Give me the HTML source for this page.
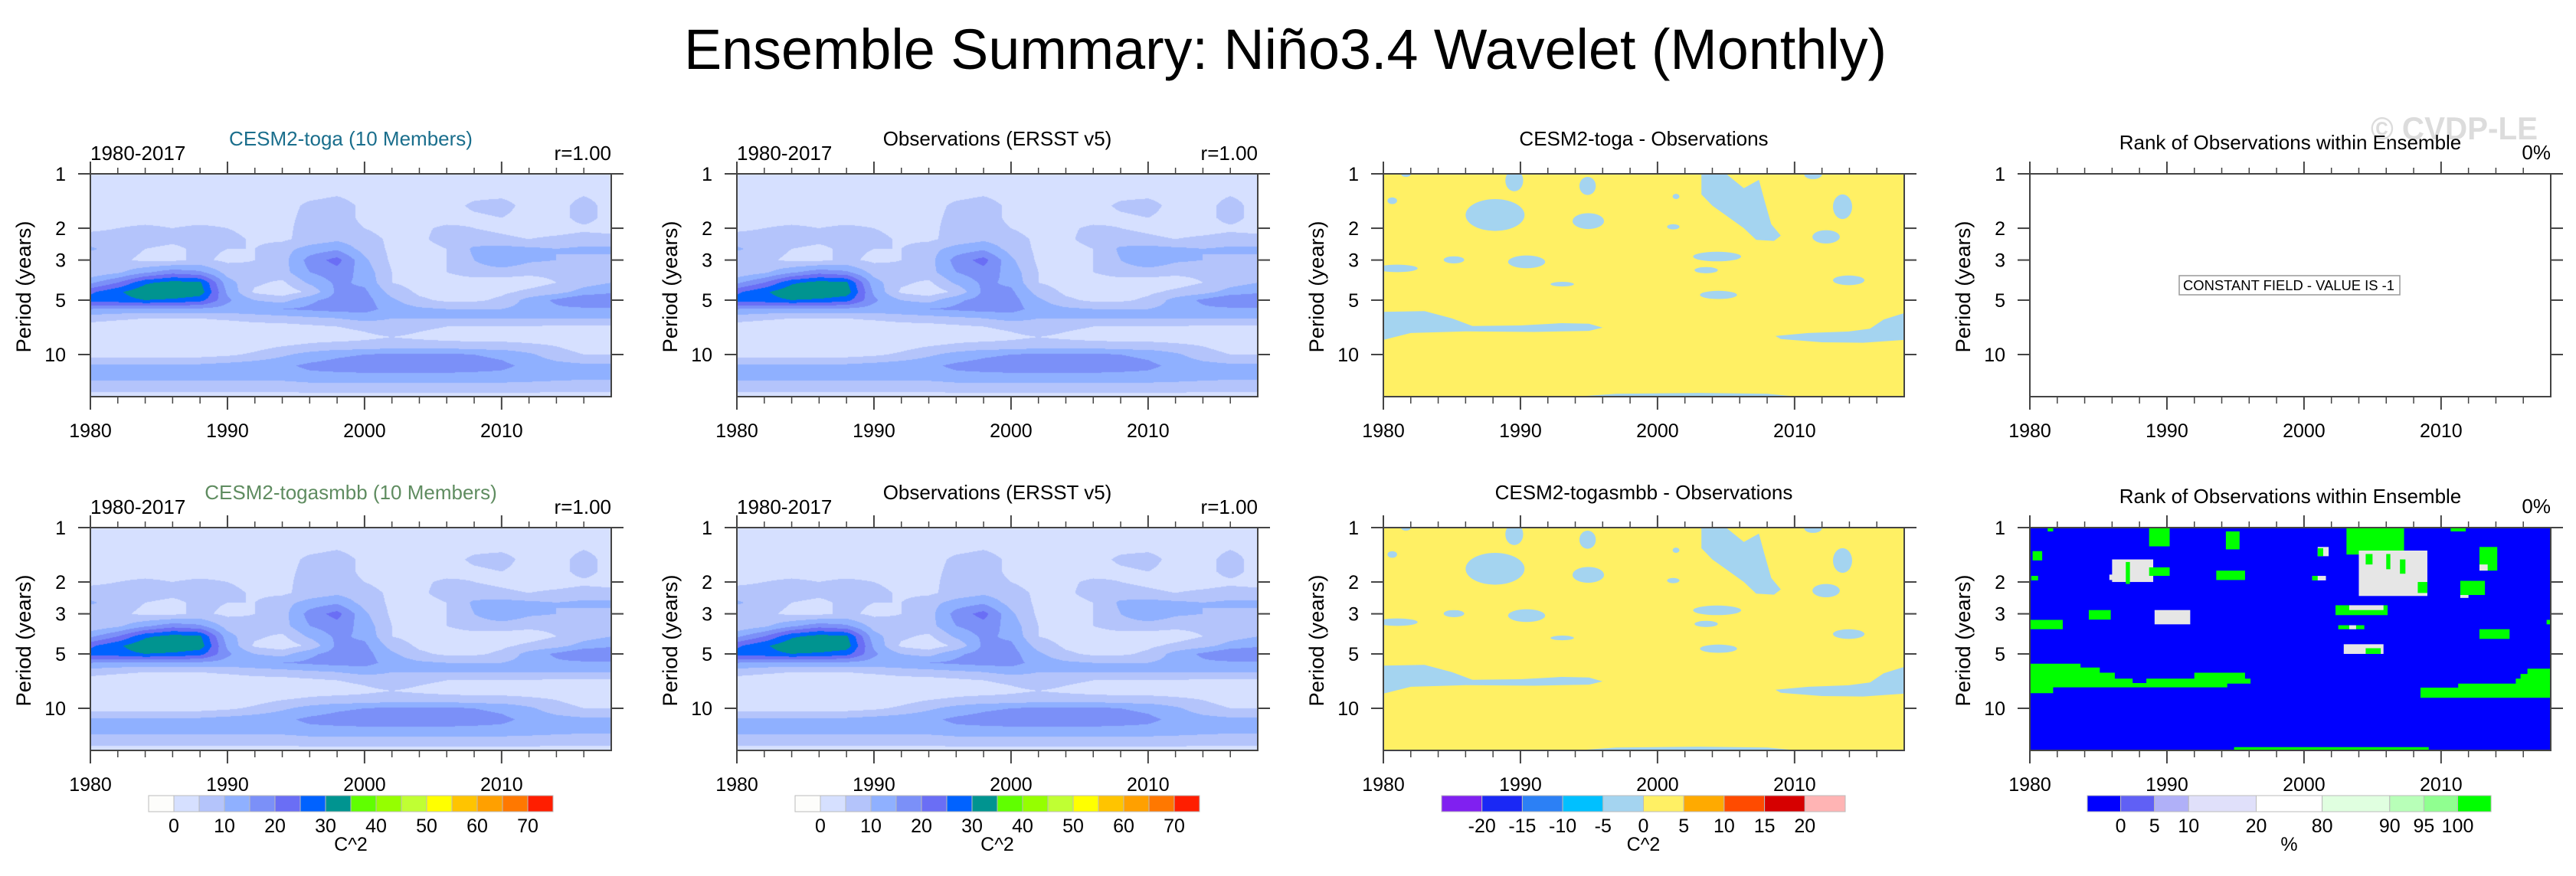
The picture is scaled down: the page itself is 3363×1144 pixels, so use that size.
<!DOCTYPE html>
<html><head><meta charset="utf-8">
<style>
html,body{margin:0;padding:0;background:#fff;}
#wrap{position:relative;width:3363px;height:1144px;overflow:hidden;background:#fff;font-family:"Liberation Sans",sans-serif;}
canvas{position:absolute;}
svg{position:absolute;left:0;top:0;}
</style></head>
<body>
<div id="wrap">
<svg id="svg" width="3363" height="1144" viewBox="0 0 3363 1144">
  <text x="893" y="90" font-size="74" textLength="1570" lengthAdjust="spacingAndGlyphs" fill="#000">Ensemble Summary: Niño3.4 Wavelet (Monthly)</text>
  <text x="3095" y="182" font-size="42" font-weight="bold" fill="#dcdcdc" textLength="218" lengthAdjust="spacingAndGlyphs">© CVDP-LE</text>
</svg>
</div>
<script>
const NS="http://www.w3.org/2000/svg";
const svg=document.getElementById('svg');
const wrap=document.getElementById('wrap');
const PL=[118,962,1806,2650], PT=[227,689], PW=680, PH=291, PMAX=17.1;
const yearTicks=[1980,1990,2000,2010];
const minorYears=[1982,1984,1986,1988,1992,1994,1996,1998,2002,2004,2006,2008,2012,2014,2016];
const periodTicks=[1,2,3,5,10];

const gridYears=[1980,1982,1984,1986,1988,1990,1992,1994,1996,1998,2000,2002,2004,2006,2008,2010,2012,2014,2016,2018];
const gridPeriods=[1,1.25,1.5,1.75,2,2.3,2.6,3,3.5,4,4.5,5,5.6,6.3,7,8,9,10,11.5,13,15,17.2];
const power=[
[3,3,3,3,3,3,3,3,3,3,3,3,3,3,3,3,3,3,3,3],
[3,3,3,3,3,3,3,3,3,4,3,3,3,3,3,3,3,3,4,3],
[3,3,3,3,3,3,3,3,6,7,4,3,3,3,6,7,3,3,7,3],
[3,3,3,3,3,3,3,3,7,7,4,3,3,3,4,5,3,3,7,3],
[4,5,6,5,6,5,3,3,8,7,5,3,4,6,5,4,3,3,4,3],
[7,7,7,6,7,7,4,4,7,9,7,4,4,7,7,6,5,6,7,7],
[11,7,5,4,6,5,5,8,12,14,8,4,3,5,11,12,11,10,11,11],
[6,6,4,4,6,4,5,8,17,22,11,4,3,5,10,15,11,10,9,9],
[6,9,14,18,16,8,6,8,15,18,13,5,4,5,7,7,6,6,6,7],
[14,20,29,32,31,12,6,4,11,16,14,5,3,3,3,3,3,5,8,10],
[24,29,34,35,33,14,4,2,6,16,16,8,4,3,3,4,6,8,12,14],
[27,28,30,29,27,16,10,8,14,17,17,11,6,4,4,6,12,16,20,20],
[15,14,14,14,14,13,14,15,16,17,17,13,11,10,10,10,12,14,14,14],
[7,6,5,5,5,6,7,8,9,10,12,10,10,10,10,10,10,10,10,10],
[3,2,2,2,2,2,3,3,4,5,6,8,6,5,5,5,5,4,4,4],
[2,2,2,2,2,2,2,2,3,3,4,5,4,3,3,3,3,3,2,2],
[2,2,2,2,2,2,3,5,6,7,7,8,8,8,7,7,6,5,3,3],
[3,3,3,3,3,4,6,9,12,14,15,16,16,16,15,14,11,7,5,5],
[11,11,11,11,11,12,13,14,16,17,18,18,18,18,17,16,14,12,11,11],
[13,13,13,13,13,13,13,13,14,14,14,14,14,14,14,14,13,13,12,12],
[7,7,7,7,7,7,7,7,8,8,8,8,8,8,8,8,8,7,7,7],
[3,3,3,3,3,3,3,3,3,3,3,3,3,3,3,3,3,3,3,3]];
const obsPower=power;

const powerLabels=["0","10","20","30","40","50","60","70"];
const powerColors=["#fdfdfb","#d6e0ff","#b4c4fb","#8fb0ff","#7b90f8","#6a6ef5","#0062ff","#009490","#60ff00","#95ff00","#c0ff33","#ffff00","#ffc400","#ffa000","#ff7800","#ff1e00"];
const diffLabels=["-20","-15","-10","-5","0","5","10","15","20"];
const diffColors=["#8020f0","#1a28f5","#2c80f5","#00c0ff","#a4d4f0","#fff064","#ffaa00","#ff4b00","#d60000","#ffb4b4"];
const rankLabels=["0","5","10","20","80","90","95","100"];
const rankColors=["#0000ff","#6060f5","#b0b0f8","#e0e0fa","#ffffff","#e0ffe0","#b8ffb8","#90ff90","#00ff00"];
const rankBoxWidths=[83,84,85,168,164,168,85,84,83];

const diffBlobs=[[1988.9,1990.2,0.95,1.25],[1994.3,1995.5,1.04,1.31],[1980.3,1981.0,1.35,1.47],[1986.0,1990.3,1.38,2.07],
[1993.8,1996.1,1.65,2.02],[2001.1,2001.6,1.29,1.38],[2000.7,2001.6,1.9,2.03],[2012.8,2014.2,1.3,1.78],[2011.3,2013.3,2.05,2.43],
[2010.7,2012.0,0.95,1.07],[1984.4,1985.9,2.86,3.13],[1989.1,1991.8,2.83,3.33],[1979.5,1982.5,3.18,3.5],[1992.2,1993.9,3.96,4.2],
[2002.6,2006.1,2.7,3.05],[2002.7,2004.4,3.28,3.55],[2003.1,2005.8,4.44,4.93],[2012.8,2015.1,3.65,4.13],[1981.3,1982.0,0.97,1.04]];
const diffPolyA=[[2003.2,1],[2005,1],[2006.3,1.2],[2007.4,1.08],[2007.8,1.4],[2008.3,1.9],[2009,2.2],[2008.5,2.35],[2007.2,2.32],[2006.3,2.0],[2005,1.7],[2004,1.5],[2003.2,1.3]];
const diffPolyB=[[1980,5.8],[1983,5.75],[1985,6.3],[1986.5,6.95],[1990,6.9],[1993,6.7],[1995,6.75],[1996,7.1],[1995,7.4],[1991,7.5],[1986,7.45],[1982,7.6],[1980,8.3]];
const diffPolyC=[[2008.6,7.9],[2011,7.6],[2014,7.45],[2015.5,7.2],[2016.5,6.4],[2018,5.9],[2018,8.3],[2015,8.6],[2012,8.55],[2009,8.2]];
const diffPolyD=[[1993,17.3],[1997,16.5],[2003,16.3],[2008,16.5],[2011,17.3]];

const rankRects=[[1981.3,1981.7,1,1.05,'g'],[1988.7,1990.2,1,1.27,'g'],[1994.3,1995.3,1.05,1.32,'g'],[1980.2,1980.9,1.35,1.52,'g'],
[1980.1,1980.6,1.85,1.96,'g'],[1986,1989,1.5,2.0,'w'],[1985.8,1986.6,1.82,1.95,'w'],[1988.7,1990.2,1.66,1.85,'g'],[1987,1987.3,1.55,2.05,'g'],
[1993.6,1995.7,1.73,1.95,'g'],[2000.6,2001.6,1.85,1.96,'w'],[2000.6,2001.0,1.85,1.96,'g'],[2001,2001.8,1.28,1.44,'w'],[2001,2001.4,1.3,1.44,'g'],
[2003.1,2007.3,1,1.41,'g'],[2004,2009,1.34,2.39,'w'],[2004.5,2005,1.4,1.6,'g'],[2006,2006.3,1.4,1.7,'g'],[2007,2007.4,1.5,1.8,'g'],[2008.3,2009,2.0,2.3,'g'],
[2010.7,2011.8,1,1.05,'g'],[2012.8,2014.1,1.28,1.73,'g'],[2012.8,2013.4,1.6,1.73,'w'],[2011.4,2013.2,1.97,2.36,'g'],[2011.4,2012,2.36,2.45,'w'],
[1984.3,1985.9,2.86,3.23,'g'],[1989.1,1991.7,2.86,3.43,'w'],[1980,1982.4,3.24,3.65,'g'],[2002.3,2006.1,2.69,3.05,'g'],[2003.3,2005.8,2.69,2.86,'w'],
[2002.5,2004.4,3.47,3.65,'g'],[2003.3,2003.8,3.47,3.65,'w'],[2002.9,2005.8,4.42,5.0,'w'],[2004.5,2005.6,4.65,5.0,'g'],[2012.8,2015,3.65,4.13,'g'],[2017.7,2018,3.24,3.43,'g'],
[1994.9,2009.1,16.4,17.2,'g']];
const rankPolyA=[[1980,5.66],[1983.7,5.66],[1983.7,5.95],[1985.1,5.95],[1985.1,6.35],[1986.2,6.35],[1986.2,6.85],[1987.5,6.85],[1987.5,7.25],[1988.5,7.25],[1988.5,6.85],[1992,6.85],[1992,6.35],[1995.7,6.35],[1995.7,6.85],[1996.1,6.85],[1996.1,7.3],[1994.4,7.3],[1994.4,7.65],[1981.7,7.65],[1981.7,8.25],[1980,8.25]];
const rankPolyB=[[2008.5,7.68],[2011.25,7.68],[2011.25,7.3],[2015.45,7.3],[2015.45,6.85],[2015.8,6.85],[2015.8,6.45],[2016.3,6.45],[2016.3,6.03],[2018,6.03],[2018,8.74],[2008.5,8.74]];

function el(tag,attrs,parent){const e=document.createElementNS(NS,tag);for(const k in attrs)e.setAttribute(k,attrs[k]);(parent||svg).appendChild(e);return e;}
function xs(c,yr){return PL[c]+(yr-1980)/38*PW;}
function ys(r,p){return PT[r]+Math.log10(p)/Math.log10(PMAX)*PH;}
function txt(x,y,s,size,anchor,fill){const t=el('text',{x:x,y:y,'font-size':size,'text-anchor':anchor||'start',fill:fill||'#000'});t.textContent=s;return t;}

function drawPowerCanvas(c,r,grid){
  const cv=document.createElement('canvas');cv.width=PW;cv.height=PH;
  cv.style.left=PL[c]+'px';cv.style.top=PT[r]+'px';
  
  
  wrap.insertBefore(cv,svg);
  const ctx=cv.getContext('2d');const img=ctx.createImageData(PW,PH);
  const lgp=gridPeriods.map(p=>Math.log10(p));
  const rgb=powerColors.map(h=>[parseInt(h.substr(1,2),16),parseInt(h.substr(3,2),16),parseInt(h.substr(5,2),16)]);
  for(let py=0;py<PH;py++){
    const lp=(py+0.5)/PH*Math.log10(PMAX);
    let j=0;while(j<lgp.length-2&&lgp[j+1]<lp)j++;
    const fy=Math.min(1,Math.max(0,(lp-lgp[j])/(lgp[j+1]-lgp[j])));
    for(let px=0;px<PW;px++){
      const yr=1980+(px+0.5)/PW*38;
      let i=0;while(i<gridYears.length-2&&gridYears[i+1]<yr)i++;
      const fx=Math.min(1,Math.max(0,(yr-gridYears[i])/(gridYears[i+1]-gridYears[i])));
      const v=(grid[j][i]*(1-fx)+grid[j][i+1]*fx)*(1-fy)+(grid[j+1][i]*(1-fx)+grid[j+1][i+1]*fx)*fy;
      const k=v<0?0:Math.min(15,Math.floor(v/5)+1);
      const o=(py*PW+px)*4;img.data[o]=rgb[k][0];img.data[o+1]=rgb[k][1];img.data[o+2]=rgb[k][2];img.data[o+3]=255;
    }
  }
  ctx.putImageData(img,0,0);
}

function clip(c,r){const id='clip'+c+r;const cp=el('clipPath',{id:id});el('rect',{x:PL[c],y:PT[r],width:PW,height:PH},cp);return 'url(#'+id+')';}
function poly(c,r,pts,fill,g){const d=pts.map(p=>xs(c,p[0]).toFixed(1)+','+ys(r,p[1]).toFixed(1)).join(' ');return el('polygon',{points:d,fill:fill},g);}

function drawDiff(c,r){
  const g=el('g',{'clip-path':clip(c,r)});
  
  
  el('rect',{x:PL[c],y:PT[r],width:PW,height:PH,fill:diffColors[5]},g);
  const neg=diffColors[4];
  diffBlobs.forEach(b=>{
    const e=el('ellipse',{cx:(xs(c,b[0])+xs(c,b[1]))/2,cy:(ys(r,b[2])+ys(r,b[3]))/2,rx:(xs(c,b[1])-xs(c,b[0]))/2,ry:(ys(r,b[3])-ys(r,b[2]))/2,fill:neg},g);
    
    
  });
  [diffPolyA,diffPolyB,diffPolyC,diffPolyD].forEach(pp=>{
    const p=poly(c,r,pp,neg,g);
    
    
  });
}

function drawRank(c,r){
  const g=el('g',{'clip-path':clip(c,r)});
  
  
  el('rect',{x:PL[c],y:PT[r],width:PW,height:PH,fill:rankColors[0]},g);
  [rankPolyA,rankPolyB].forEach(pp=>{
    const p=poly(c,r,pp,rankColors[8],g);
    
    
  });
  rankRects.forEach(b=>{
    const e=el('rect',{x:xs(c,b[0]),y:ys(r,b[2]),width:xs(c,b[1])-xs(c,b[0]),height:ys(r,b[3])-ys(r,b[2]),fill:b[4]=='g'?rankColors[8]:'#e6e6e6'},g);
    
    
  });
}

function axes(c,r){
  const x0=PL[c],y0=PT[r],x1=x0+PW,y1=y0+PH,st='#444';
  const f=el('rect',{x:x0,y:y0,width:PW,height:PH,fill:'none',stroke:st,'stroke-width':2});
  
  
  yearTicks.forEach(yr=>{const x=xs(c,yr);
    el('line',{x1:x,y1:y0-16,x2:x,y2:y0,stroke:st,'stroke-width':2});
    el('line',{x1:x,y1:y1,x2:x,y2:y1+17,stroke:st,'stroke-width':2});
    const t=txt(x,y1+53,String(yr),25,'middle');
    
    
  });
  minorYears.forEach(yr=>{const x=xs(c,yr);
    el('line',{x1:x,y1:y0-8,x2:x,y2:y0,stroke:st,'stroke-width':1.5});
    el('line',{x1:x,y1:y1,x2:x,y2:y1+9,stroke:st,'stroke-width':1.5});
  });
  periodTicks.forEach(p=>{const y=ys(r,p);
    el('line',{x1:x0-16,y1:y,x2:x0,y2:y,stroke:st,'stroke-width':2});
    el('line',{x1:x1,y1:y,x2:x1+16,y2:y,stroke:st,'stroke-width':2});
    const t=txt(x0-32,y+9,String(p),25,'end');
    
    
  });
  const cy=y0+PH/2+2;
  const t=el('text',{x:0,y:0,'font-size':27,'text-anchor':'middle',transform:'translate('+(x0-78)+','+cy+') rotate(-90)',textLength:172,lengthAdjust:'spacingAndGlyphs'});
  t.textContent='Period (years)';
  
  
}

function titles(c,r,center,color,left,right,centerY){
  const dy=r*462;
  const t=txt(PL[c]+PW/2,(centerY||190)+dy,center,26,'middle',color);
  
  
  if(left){const a=txt(PL[c],209+dy,left,26,'start');
    
    }
  if(right){const b=txt(PL[c]+PW,209+dy,right,26,'end');
    
    }
}

function colorbar(x0,widths,colors,labels,unit){
  const y=1039,h=21;let x=x0;const edges=[x0];
  widths.forEach((w,i)=>{
    const b=el('rect',{x:x,y:y,width:w,height:h,fill:colors[i],stroke:'#bbb','stroke-width':1});
    
    
    x+=w;edges.push(x);
  });
  const step=(labels.length===8&&colors.length===16)?2:1;
  labels.forEach((s,i)=>{
    const t=txt(edges[1+i*step],1087,s,25,'middle');
    
    
  });
  const u=txt((x0+x)/2,1111,unit,25,'middle');
  
  
}

drawPowerCanvas(0,0,power);
drawPowerCanvas(1,0,obsPower);
drawDiff(2,0);
for(let c=0;c<4;c++)axes(c,0);
titles(0,0,'CESM2-toga (10 Members)','#1a6e8c','1980-2017','r=1.00');
titles(1,0,'Observations (ERSST v5)','#000','1980-2017','r=1.00');
titles(2,0,'CESM2-toga - Observations','#000');
titles(3,0,'Rank of Observations within Ensemble','#000',null,null,195);
{const z=txt(PL[3]+PW,208,'0%',26,'end');}
{const bx=el('rect',{x:2845,y:360,width:288,height:25,fill:'#fff',stroke:'#999','stroke-width':1.5});
 
 const t=el('text',{x:2850,y:379,'font-size':18,textLength:276,lengthAdjust:'spacingAndGlyphs'});t.textContent='CONSTANT FIELD - VALUE IS -1';
 }

drawPowerCanvas(0,1,power);
drawPowerCanvas(1,1,obsPower);
drawDiff(2,1);
drawRank(3,1);
for(let c=0;c<4;c++)axes(c,1);
titles(0,1,'CESM2-togasmbb (10 Members)','#5f8c60','1980-2017','r=1.00');
titles(1,1,'Observations (ERSST v5)','#000','1980-2017','r=1.00');
titles(2,1,'CESM2-togasmbb - Observations','#000');
titles(3,1,'Rank of Observations within Ensemble','#000',null,null,195);
{const z=txt(PL[3]+PW,670,'0%',26,'end');}

const pw=powerColors.map(()=>33);
colorbar(194,pw,powerColors,powerLabels,'C^2');
colorbar(1038,pw,powerColors,powerLabels,'C^2');
colorbar(1882,diffColors.map(()=>52.7),diffColors,diffLabels,'C^2');
colorbar(2725,rankBoxWidths.map(w=>w*0.525),rankColors,rankLabels,'%');
</script>
</body></html>
